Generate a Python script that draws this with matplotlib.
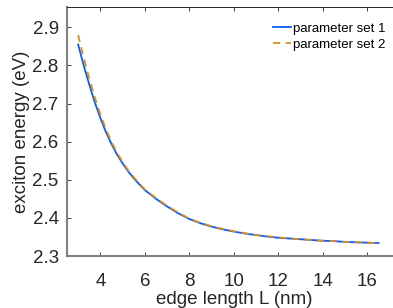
import matplotlib
matplotlib.use("Agg")
import matplotlib.pyplot as plt

plt.rcParams['font.family'] = ['Liberation Sans', 'DejaVu Sans']

# edge length L (nm)
L = [3.0, 3.25, 3.5, 3.75, 4.0, 4.25, 4.5, 4.75, 5.0, 5.25, 5.5, 5.75, 6.0,
     6.5, 7.0, 7.5, 8.0, 8.5, 9.0, 9.5, 10.0, 10.5, 11.0, 11.5, 12.0, 12.5,
     13.0, 13.5, 14.0, 14.5, 15.0, 15.5, 16.0, 16.5]
# exciton energy (eV)
set1 = [2.855, 2.800, 2.750, 2.703, 2.662, 2.625, 2.594, 2.566, 2.543, 2.522,
        2.504, 2.488, 2.473, 2.450, 2.430, 2.412, 2.397, 2.386, 2.377, 2.370,
        2.364, 2.359, 2.355, 2.351, 2.348, 2.346, 2.344, 2.342, 2.340, 2.339,
        2.337, 2.336, 2.335, 2.334]
set2 = [2.880, 2.820, 2.766, 2.716, 2.672, 2.633, 2.600, 2.571, 2.547, 2.525,
        2.507, 2.490, 2.475, 2.452, 2.432, 2.414, 2.398, 2.387, 2.378, 2.371,
        2.365, 2.360, 2.355, 2.352, 2.349, 2.346, 2.344, 2.342, 2.340, 2.339,
        2.337, 2.336, 2.335, 2.334]
labels = ["parameter set 1", "parameter set 2"]

fig = plt.figure(figsize=(3.93, 3.08), dpi=100)
ax = fig.add_axes([0.1705, 0.1688, 0.85, 0.808])

ax.plot(L, set1, color='#0a5cff', lw=1.3, label=labels[0])
ax.plot(L, set2, color='#d9901c', lw=1.3, ls=(0, (4, 3)), label=labels[1])

ax.set_xlim(2.5, 2.5 + 0.85 * 393 / 22.25)
ax.set_ylim(2.3, 2.953)
ax.set_xticks([4, 6, 8, 10, 12, 14, 16])
ax.set_yticks([2.3, 2.4, 2.5, 2.6, 2.7, 2.8, 2.9])
ax.tick_params(direction='in', length=3, width=0.6, top=True,
               labelsize=13.5, colors='#262626')
ax.tick_params(axis='x', pad=12)
ax.tick_params(axis='y', pad=6)
for s in ax.spines.values():
    s.set_color('#262626')
    s.set_linewidth(0.7)
for side in ('bottom', 'left'):
    ax.spines[side].set_color('#808080')
    ax.spines[side].set_linewidth(1.5)

ax.set_xlabel("edge length L (nm)", fontsize=13.5, color='#262626', labelpad=1)
ax.set_ylabel("exciton energy (eV)", fontsize=13.5, color='#262626', labelpad=2)

ax.legend(loc='upper right', bbox_to_anchor=(0.98, 0.975), frameon=False,
          fontsize=9.5, handlelength=1.4, handletextpad=0.1,
          labelspacing=0.3, borderaxespad=0.3)

fig.savefig("out.png", dpi=100)
